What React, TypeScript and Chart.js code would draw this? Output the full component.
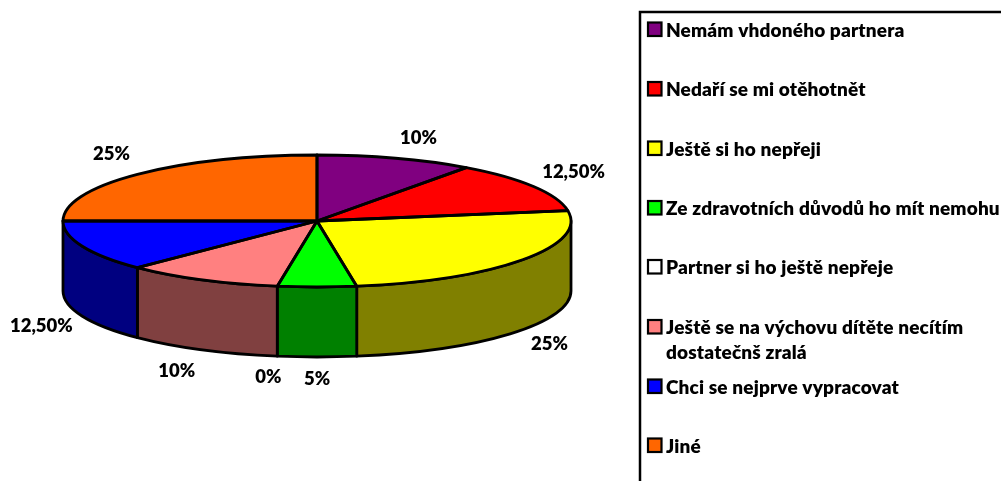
import React, { useEffect, useRef } from "react";
import { Chart, registerables } from "chart.js";

Chart.register(...registerables);

const categories = [
  "Nemám vhdoného partnera",
  "Nedaří se mi otěhotnět",
  "Ještě si ho nepřeji",
  "Ze zdravotních důvodů ho mít nemohu",
  "Partner si ho ještě nepřeje",
  "Ještě se na výchovu dítěte necítím|dostatečnš zralá",
  "Chci se nejprve vypracovat",
  "Jiné",
];
const values = [10, 12.5, 25, 5, 0, 10, 12.5, 25];
const valueLabels = ["10%", "12,50%", "25%", "5%", "0%", "10%", "12,50%", "25%"];
const faceColors = ["#800080", "#FF0000", "#FFFF00", "#00FF00", "#FFFFFF", "#FF8080", "#0000FF", "#FF6600"];
const wallColors = ["#400040", "#800000", "#808000", "#008000", "#808080", "#804040", "#000080", "#803300"];

// Geometry of the tilted pie and the layout of its annotations
const CX = 317, CY = 221, RX = 254, RY = 66, DEPTH = 70, LINE = 2.8;
const labelNudge = [[23, -20], [40, -14], [27, 14], [0, 22], [-9, 21], [-25, 21], [-41, 10], [-26, -20]];
const legendRows = [29, 88.5, 148, 207.5, 266.5, 326.5, 386, 445];
const LABEL_FONT = '800 18.5px Lato, "Open Sans", sans-serif';
const LEGEND_FONT = '800 19px Lato, "Open Sans", sans-serif';

const tiltPlugin = {
  id: "tilt",
  beforeDatasetsDraw(chart: any) {
    const ctx = chart.ctx;
    const arcs = chart.getDatasetMeta(0).data;
    ctx.save();
    ctx.lineWidth = LINE;
    ctx.strokeStyle = "#000";
    ctx.lineJoin = "round";
    arcs.forEach((arc: any, i: number) => {
      if (values[i] === 0) return;
      const a = Math.max(arc.startAngle, 0);
      const b = Math.min(arc.endAngle, Math.PI);
      if (b <= a) return;
      ctx.beginPath();
      ctx.ellipse(CX, CY, RX, RY, 0, a, b);
      ctx.lineTo(CX + RX * Math.cos(b), CY + RY * Math.sin(b) + DEPTH);
      ctx.ellipse(CX, CY + DEPTH, RX, RY, 0, b, a, true);
      ctx.closePath();
      ctx.fillStyle = wallColors[i];
      ctx.fill();
      ctx.stroke();
    });
    ctx.restore();
    const R = arcs[0].outerRadius;
    ctx.save();
    ctx.translate(CX, CY);
    ctx.scale(RX / R, RY / R);
    ctx.translate(-arcs[0].x, -arcs[0].y);
  },
  afterDatasetsDraw(chart: any) {
    const ctx = chart.ctx;
    ctx.restore();
    const arcs = chart.getDatasetMeta(0).data;
    ctx.save();
    ctx.lineWidth = LINE;
    ctx.strokeStyle = "#000";
    ctx.lineJoin = "round";
    arcs.forEach((arc: any, i: number) => {
      if (values[i] === 0) return;
      ctx.beginPath();
      ctx.moveTo(CX, CY);
      ctx.ellipse(CX, CY, RX, RY, 0, arc.startAngle, arc.endAngle);
      ctx.closePath();
      ctx.stroke();
    });
    ctx.fillStyle = "#000";
    ctx.font = LABEL_FONT;
    ctx.textAlign = "center";
    ctx.textBaseline = "middle";
    arcs.forEach((arc: any, i: number) => {
      const m = (arc.startAngle + arc.endAngle) / 2;
      const front = Math.sin(m) > 0 ? DEPTH : 0;
      ctx.fillText(
        valueLabels[i],
        CX + RX * Math.cos(m) + labelNudge[i][0],
        CY + RY * Math.sin(m) + front + labelNudge[i][1]
      );
    });
    ctx.restore();

    // Legend panel: it runs off the right and bottom of the picture
    ctx.save();
    ctx.lineWidth = 2.5;
    ctx.strokeStyle = "#000";
    ctx.strokeRect(640, 12, 600, 600);
    ctx.font = LEGEND_FONT;
    (ctx as any).letterSpacing = "0.15px";
    ctx.textAlign = "left";
    ctx.textBaseline = "alphabetic";
    categories.forEach((name, i) => {
      const y = legendRows[i];
      ctx.fillStyle = faceColors[i];
      ctx.fillRect(648, y - 6.5, 13.5, 13.5);
      ctx.lineWidth = 2.2;
      ctx.strokeRect(648, y - 6.5, 13.5, 13.5);
      ctx.fillStyle = "#000";
      name.split("|").forEach((line, k) => ctx.fillText(line, 666, y + 7.5 + k * 25));
    });
    ctx.restore();
  },
};

export default function App() {
  const ref = useRef<HTMLCanvasElement>(null);
  useEffect(() => {
    const chart = new Chart(ref.current!, {
      type: "pie",
      data: {
        labels: categories.map((c) => c.replace("|", " ")),
        datasets: [{ data: values, backgroundColor: faceColors, borderWidth: 0, clip: false } as any],
      },
      options: {
        animation: false,
        responsive: false,
        plugins: { legend: { display: false }, tooltip: { enabled: false } },
      },
      plugins: [tiltPlugin],
    });
    return () => chart.destroy();
  }, []);
  return (
    <canvas
      ref={ref}
      width={1001}
      height={481}
      style={{ position: "fixed", left: 0, top: 0, display: "block", background: "#fff" }}
    />
  );
}
